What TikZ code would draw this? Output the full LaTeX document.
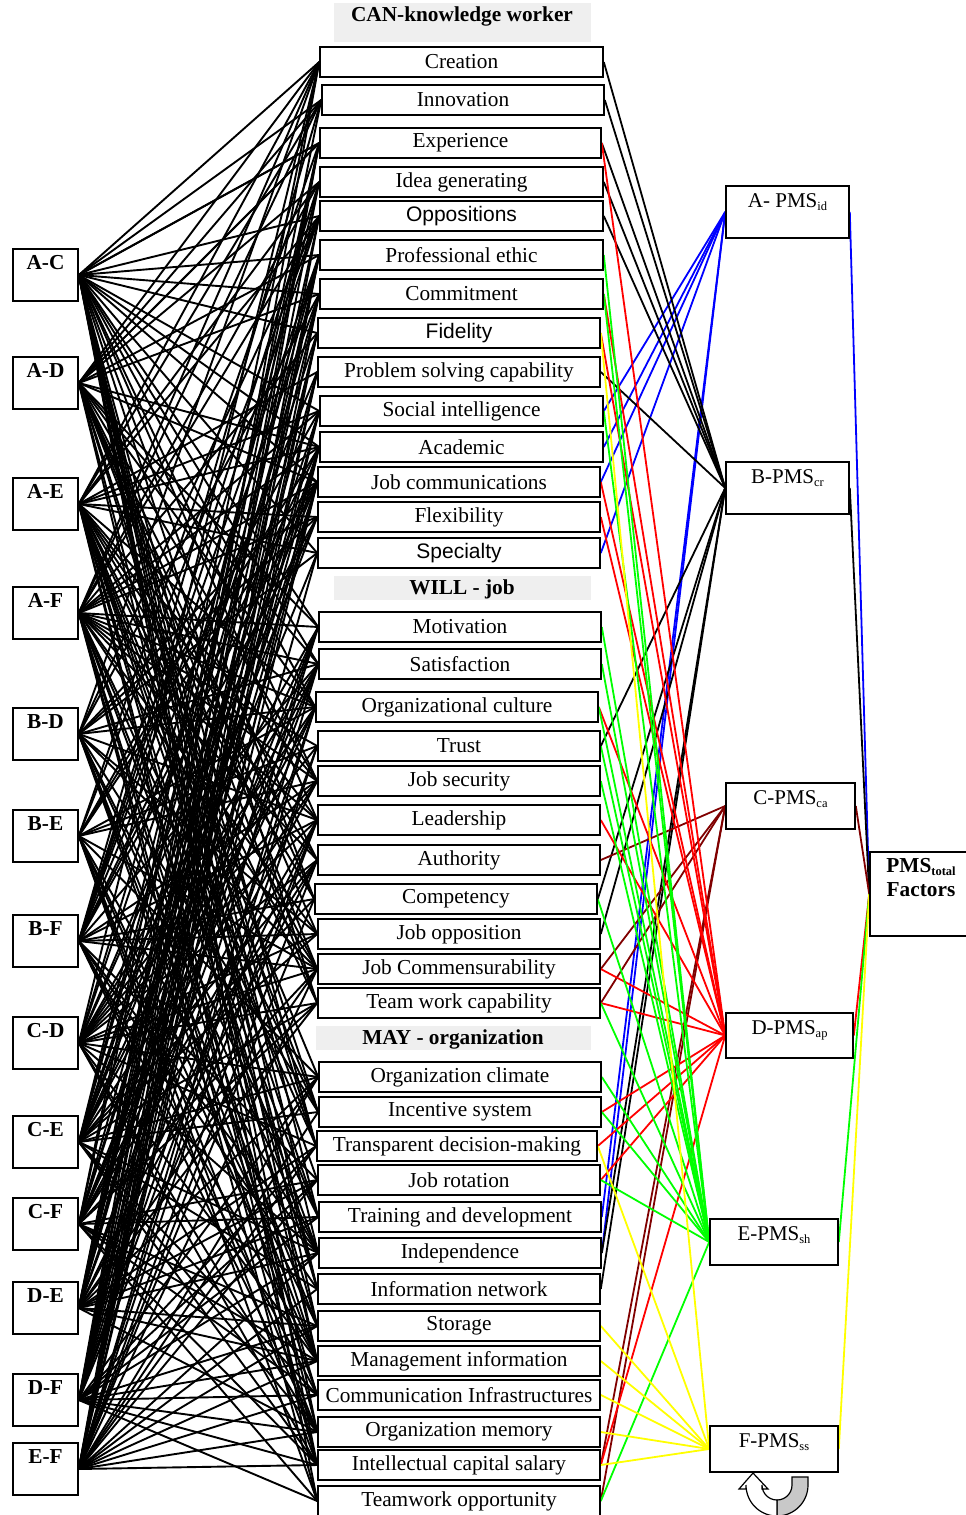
\documentclass[tikz,border=0pt]{standalone}
\usepackage{fontspec}
\setmainfont{Liberation Serif}
\newfontfamily\arialf{Liberation Sans}
\pgfdeclarelayer{bg}
\pgfsetlayers{bg,main}
\definecolor{mred}{HTML}{FF0000}
\definecolor{mgreen}{HTML}{00FF00}
\definecolor{mblue}{HTML}{0000FF}
\definecolor{myellow}{HTML}{FFFF00}
\definecolor{mbrown}{HTML}{800000}
\definecolor{tgray}{HTML}{EFEFEF}
\definecolor{agray}{HTML}{C8C8C8}
\newcommand\sbs[1]{\raisebox{-0.15em}{\fontsize{12.5}{12.5}\selectfont #1}}
\newcommand\midbox[6]{\node[mbox, minimum width={(#3-#2)*1pt}, #6] (#1) at ({(#2+#3)/2},{#4+15}) {#5};}
\newcommand\leftbox[3]{\node[lbox] (#1) at (45.5,{#2+26}) {};\node[ltext, anchor=north] (#1t) at (45.5,{#2+6}) {#3};}
\newcommand\rightbox[6]{\node[rbox, minimum width={(#3-#2)*1pt}, minimum height={(#5-#4)*1pt}] (#1) at ({(#2+#3)/2},{(#4+#5)/2}) {};\node[rtext, anchor=north] (#1t) at ({(#2+#3)/2},{#4+7}) {#6};}
\begin{document}
\begin{tikzpicture}[x=1pt,y=-1pt,
  mbox/.style={draw, line width=1.6pt, fill=white, inner sep=0pt, minimum height=30pt, font=\fontsize{21.3}{25}\selectfont},
  lbox/.style={draw, line width=1.6pt, fill=white, minimum width=65pt, minimum height=52pt, inner sep=0pt},
  rbox/.style={draw, line width=1.6pt, fill=white, inner sep=0pt},
  ltext/.style={font=\bfseries\fontsize{21.3}{25}\selectfont, inner sep=0pt},
  rtext/.style={font=\fontsize{21}{25}\selectfont, inner sep=0pt},
  tbox/.style={fill=tgray, inner sep=0pt},
  ttext/.style={font=\bfseries\fontsize{21.3}{25}\selectfont, inner sep=0pt},
  mesh/.style={line width=1.9pt, black},
  conn/.style={line width=1.8pt},
]
\useasboundingbox (0,0) rectangle (966,1515);
% title bands
\node[tbox, minimum width=257pt, minimum height=39pt] (canb) at (462.5,22.5) {};
\node[ttext] (cant) at (462,16) {CAN-knowledge worker};
\node[tbox, minimum width=257pt, minimum height=24pt] (willb) at (462.5,588) {};
\node[ttext] (willt) at (462,589) {WILL - job};
\node[tbox, minimum width=275pt, minimum height=24pt] (mayb) at (453.5,1038) {};
\node[ttext] (mayt) at (453,1039) {MAY - organization};
% middle boxes
\midbox{M1}{320}{603}{47}{Creation}{}
\midbox{M2}{322}{604}{85}{Innovation}{}
\midbox{M3}{320}{601}{128}{Experience}{}
\midbox{M4}{320}{603}{167}{Idea generating}{}
\midbox{M5}{320}{603}{201}{Oppositions}{font=\arialf\fontsize{21}{25}\selectfont}
\midbox{M6}{320}{603}{240}{Professional ethic}{}
\midbox{M7}{320}{603}{279}{Commitment}{}
\midbox{M8}{318}{600}{318}{Fidelity}{font=\arialf\fontsize{21}{25}\selectfont}
\midbox{M9}{318}{600}{357}{Problem solving capability}{}
\midbox{M10}{320}{603}{396}{Social intelligence}{}
\midbox{M11}{320}{603}{432}{Academic}{}
\midbox{M12}{318}{600}{467}{Job communications}{}
\midbox{M13}{318}{600}{502}{Flexibility}{}
\midbox{M14}{318}{600}{538}{Specialty}{font=\arialf\fontsize{21}{25}\selectfont}
\midbox{M15}{319}{601}{612}{Motivation}{}
\midbox{M16}{319}{601}{649}{Satisfaction}{}
\midbox{M17}{316}{598}{692}{Organizational culture}{}
\midbox{M18}{318}{600}{731}{Trust}{}
\midbox{M19}{318}{600}{766}{Job security}{}
\midbox{M20}{318}{600}{805}{Leadership}{}
\midbox{M21}{318}{600}{845}{Authority}{}
\midbox{M22}{315}{597}{884}{Competency}{}
\midbox{M23}{318}{600}{919}{Job opposition}{}
\midbox{M24}{318}{600}{954}{Job Commensurability}{}
\midbox{M25}{318}{600}{988}{Team work capability}{}
\midbox{M26}{319}{601}{1062}{Organization climate}{}
\midbox{M27}{319}{601}{1097}{Incentive system}{}
\midbox{M28}{317}{597}{1131}{Transparent decision-making}{}
\midbox{M29}{318}{600}{1165}{Job rotation}{}
\midbox{M30}{319}{601}{1202}{Training and development}{}
\midbox{M31}{319}{601}{1238}{Independence}{}
\midbox{M32}{318}{600}{1274}{Information network}{}
\midbox{M33}{318}{600}{1311}{Storage}{}
\midbox{M34}{318}{600}{1346}{Management information}{}
\midbox{M35}{318}{600}{1380}{Communication Infrastructures}{}
\midbox{M36}{318}{600}{1417}{Organization memory}{}
\midbox{M37}{318}{600}{1450}{Intellectual capital salary}{}
\midbox{M38}{318}{600}{1486}{Teamwork opportunity}{}
% left boxes
\leftbox{L1}{249}{A-C}
\leftbox{L2}{357}{A-D}
\leftbox{L3}{478}{A-E}
\leftbox{L4}{587}{A-F}
\leftbox{L5}{708}{B-D}
\leftbox{L6}{810}{B-E}
\leftbox{L7}{915}{B-F}
\leftbox{L8}{1017}{C-D}
\leftbox{L9}{1116}{C-E}
\leftbox{L10}{1198}{C-F}
\leftbox{L11}{1282}{D-E}
\leftbox{L12}{1374}{D-F}
\leftbox{L13}{1443}{E-F}
% right boxes
\rightbox{A}{726}{849}{186}{238}{A- PMS\sbs{id}}
\rightbox{B}{726}{849}{462}{514}{B-PMS\sbs{cr}}
\rightbox{C}{726}{855}{783}{829}{C-PMS\sbs{ca}}
\rightbox{D}{726}{853}{1013}{1058}{D-PMS\sbs{ap}}
\rightbox{E}{710}{838}{1219}{1265}{E-PMS\sbs{sh}}
\rightbox{F}{710}{838}{1426}{1472}{F-PMS\sbs{ss}}
\node[rbox, minimum width=110pt, minimum height=84pt] (T) at (925,894) {};
\node[ltext, align=center, anchor=north] (Tt) at (921,858) {PMS\sbs{total}\\[-1pt]Factors};
% connectors
\begin{pgfonlayer}{bg}
\foreach \i in {1,...,13}{
  \foreach \j in {1,...,38}{
    \pgfmathtruncatemacro{\r}{mod(mod(\i*\i*13,97)+mod(\j*\j*7,97)+mod(\i*\j*29,97)+\j*11,97)}
    \ifnum\r<58 \draw[mesh] (L\i.east) -- (M\j.west);\fi
  }
}
\draw[mesh] (L1.east) -- (M1.west);
\draw[mesh] (L1.east) -- (M3.west);
\draw[mesh] (L2.east) -- (M3.west);
\foreach \j in {10,11,12,14,30,31} \draw[conn, mblue] (M\j.east) -- (A.west);
\foreach \j in {1,2,3,4,5,9,18,22,23,31,32} \draw[conn, black] (M\j.east) -- (B.west);
\foreach \j in {21,24,25,37,38} \draw[conn, mbrown] (M\j.east) -- (C.west);
\foreach \j in {3,7,8,12,13,17,20,24,25,27,28,29,37} \draw[conn, mred] (M\j.east) -- (D.west);
\foreach \j in {6,7,10,15,16,17,18,19,22,25,26,27,29,38} \draw[conn, mgreen] (M\j.east) -- (E.west);
\foreach \j in {8,28,33,34,35,36,37} \draw[conn, myellow] (M\j.east) -- (F.west);
\draw[conn, mblue] (A.east) -- (T.west);
\draw[conn, black] (B.east) -- (T.west);
\draw[conn, mbrown] (C.east) -- (T.west);
\draw[conn, mred] (D.east) -- (T.west);
\draw[conn, mgreen] (E.east) -- (T.west);
\draw[conn, myellow] (F.east) -- (T.west);
\end{pgfonlayer}
% loop arrow under F
\draw[line width=1.2pt, fill=agray] (808,1477) -- (808,1485) arc[start angle=0, end angle=-90, radius=31pt]
  -- (777,1500) arc[start angle=-90, end angle=0, radius=15pt] -- (792,1477) -- cycle;
\draw[line width=1.2pt, fill=white] (777,1516) arc[start angle=-90, end angle=-180, radius=31pt]
  -- (746,1489) -- (739,1489) -- (753,1473) -- (768,1489) -- (762,1489) -- (762,1485)
  arc[start angle=-180, end angle=-90, radius=15pt] -- cycle;
\end{tikzpicture}
\end{document}
